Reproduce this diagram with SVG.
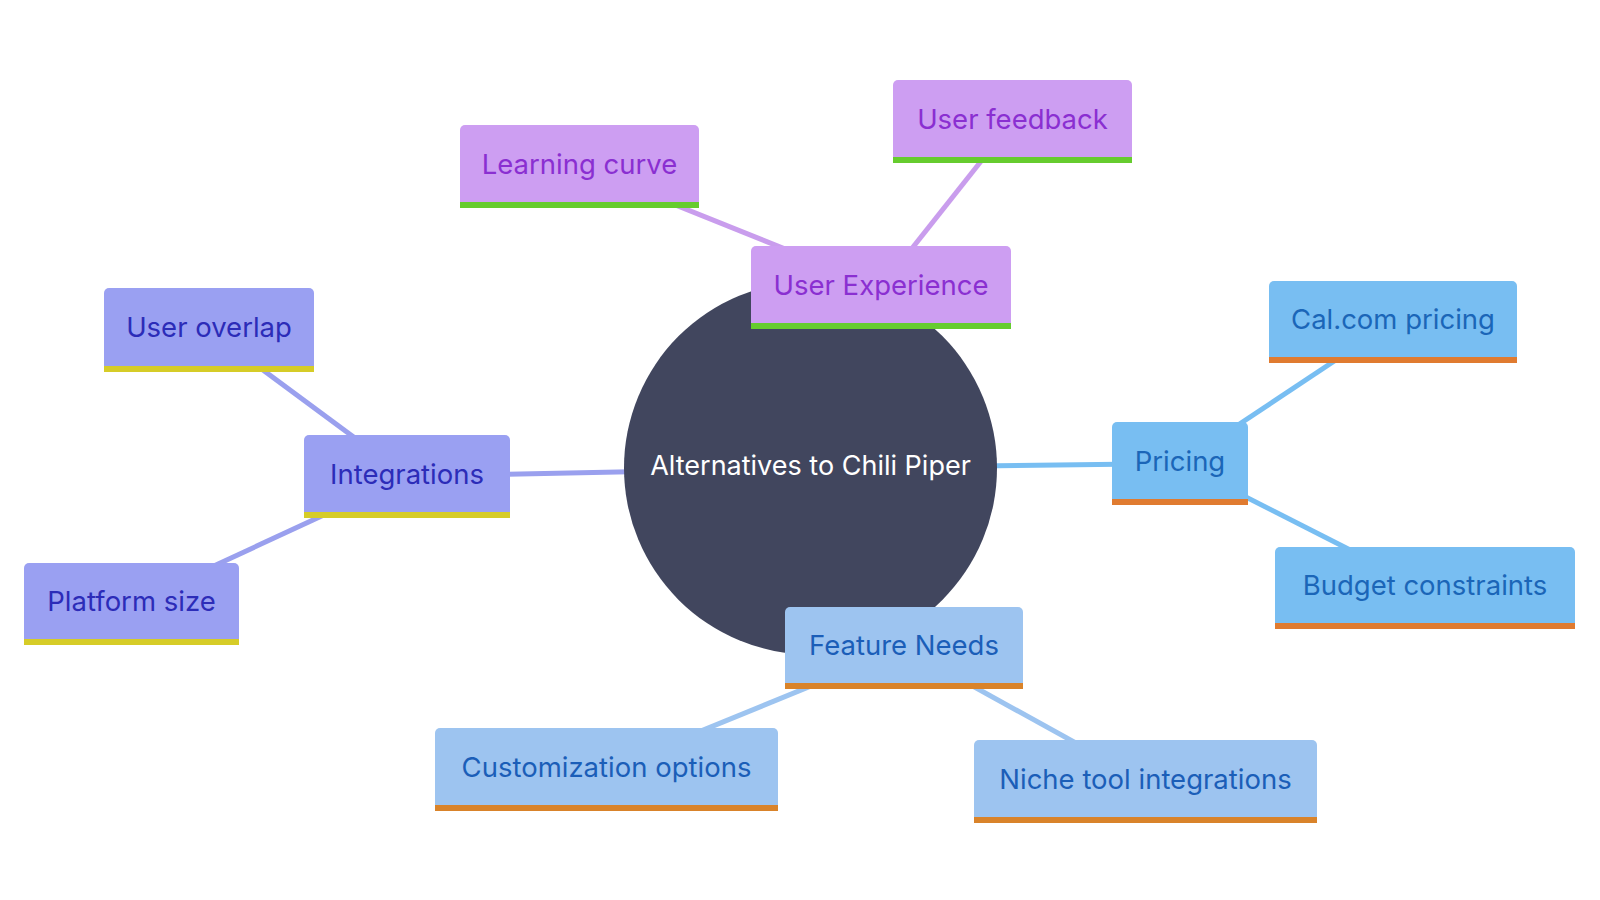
<svg xmlns="http://www.w3.org/2000/svg" width="1600" height="900" viewBox="0 0 1600 900">
<style>
text{font-family:Inter,"Noto Sans",sans-serif;text-anchor:middle}
.lbl{font-size:27.5px}
.ux .box{fill:#cd9ef2}.ux .bar{fill:#66cc2e}.ux text{fill:#8a2fd1}
.in .box{fill:#9aa0f2}.in .bar{fill:#d6cc28}.in text{fill:#2c2cb8}
.pr .box{fill:#78bef2}.pr .bar{fill:#e07b30}.pr text{fill:#1b66b8}
.fe .box{fill:#9dc4f0}.fe .bar{fill:#d9832a}.fe text{fill:#1b5eb8}
.c{stroke-width:5;fill:none}
.cux{stroke:#c99ded}.cin{stroke:#9aa0ee}.cpr{stroke:#78bef2}.cfe{stroke:#9dc4f0}
</style>
<rect width="1600" height="900" fill="#ffffff"/>
<g id="connectors">
<line class="c cux" x1="810.5" y1="468" x2="881" y2="287.5"/>
<line class="c cux" x1="881" y1="287.5" x2="579.5" y2="166.5"/>
<line class="c cux" x1="881" y1="287.5" x2="1012.5" y2="121.5"/>
<line class="c cin" x1="810.5" y1="468" x2="407" y2="476.5"/>
<line class="c cin" x1="407" y1="476.5" x2="209" y2="330"/>
<line class="c cin" x1="407" y1="476.5" x2="131.5" y2="604"/>
<line class="c cpr" x1="810.5" y1="468" x2="1180" y2="463.5"/>
<line class="c cpr" x1="1180" y1="463.5" x2="1393" y2="322"/>
<line class="c cpr" x1="1180" y1="463.5" x2="1425" y2="588"/>
<line class="c cfe" x1="810.5" y1="468" x2="904" y2="648"/>
<line class="c cfe" x1="904" y1="648" x2="606.5" y2="769.5"/>
<line class="c cfe" x1="904" y1="648" x2="1145.5" y2="781.5"/>
</g>
<g id="root">
<circle cx="810.5" cy="468" r="186.5" fill="#41465e"/>
<text x="810.5" y="475" font-size="27" fill="#ffffff">Alternatives to Chili Piper</text>
</g>
<g id="user-experience" class="ux">
<path class="box" d="M751,329V251a5,5 0 0 1 5,-5H1006a5,5 0 0 1 5,5V329Z"/>
<rect class="bar" x="751" y="323" width="260" height="6"/>
<text class="lbl" x="881" y="295">User Experience</text>
</g>
<g id="learning-curve" class="ux">
<path class="box" d="M460,208V130a5,5 0 0 1 5,-5H694a5,5 0 0 1 5,5V208Z"/>
<rect class="bar" x="460" y="202" width="239" height="6"/>
<text class="lbl" x="579.5" y="174">Learning curve</text>
</g>
<g id="user-feedback" class="ux">
<path class="box" d="M893,163V85a5,5 0 0 1 5,-5H1127a5,5 0 0 1 5,5V163Z"/>
<rect class="bar" x="893" y="157" width="239" height="6"/>
<text class="lbl" x="1012.5" y="129">User feedback</text>
</g>
<g id="integrations" class="in">
<path class="box" d="M304,518V440a5,5 0 0 1 5,-5H505a5,5 0 0 1 5,5V518Z"/>
<rect class="bar" x="304" y="512" width="206" height="6"/>
<text class="lbl" x="407" y="484">Integrations</text>
</g>
<g id="user-overlap" class="in">
<path class="box" d="M104,372V293a5,5 0 0 1 5,-5H309a5,5 0 0 1 5,5V372Z"/>
<rect class="bar" x="104" y="366" width="210" height="6"/>
<text class="lbl" x="209" y="337">User overlap</text>
</g>
<g id="platform-size" class="in">
<path class="box" d="M24,645V568a5,5 0 0 1 5,-5H234a5,5 0 0 1 5,5V645Z"/>
<rect class="bar" x="24" y="639" width="215" height="6"/>
<text class="lbl" x="131.5" y="611">Platform size</text>
</g>
<g id="pricing" class="pr">
<path class="box" d="M1112,505V427a5,5 0 0 1 5,-5H1243a5,5 0 0 1 5,5V505Z"/>
<rect class="bar" x="1112" y="499" width="136" height="6"/>
<text class="lbl" x="1180" y="471">Pricing</text>
</g>
<g id="calcom-pricing" class="pr">
<path class="box" d="M1269,363V286a5,5 0 0 1 5,-5H1512a5,5 0 0 1 5,5V363Z"/>
<rect class="bar" x="1269" y="357" width="248" height="6"/>
<text class="lbl" x="1393" y="329">Cal.com pricing</text>
</g>
<g id="budget-constraints" class="pr">
<path class="box" d="M1275,629V552a5,5 0 0 1 5,-5H1570a5,5 0 0 1 5,5V629Z"/>
<rect class="bar" x="1275" y="623" width="300" height="6"/>
<text class="lbl" x="1425" y="595">Budget constraints</text>
</g>
<g id="feature-needs" class="fe">
<path class="box" d="M785,689V612a5,5 0 0 1 5,-5H1018a5,5 0 0 1 5,5V689Z"/>
<rect class="bar" x="785" y="683" width="238" height="6"/>
<text class="lbl" x="904" y="655">Feature Needs</text>
</g>
<g id="customization-options" class="fe">
<path class="box" d="M435,811V733a5,5 0 0 1 5,-5H773a5,5 0 0 1 5,5V811Z"/>
<rect class="bar" x="435" y="805" width="343" height="6"/>
<text class="lbl" x="606.5" y="777">Customization options</text>
</g>
<g id="niche-tool-integrations" class="fe">
<path class="box" d="M974,823V745a5,5 0 0 1 5,-5H1312a5,5 0 0 1 5,5V823Z"/>
<rect class="bar" x="974" y="817" width="343" height="6"/>
<text class="lbl" x="1145.5" y="789">Niche tool integrations</text>
</g>
</svg>
